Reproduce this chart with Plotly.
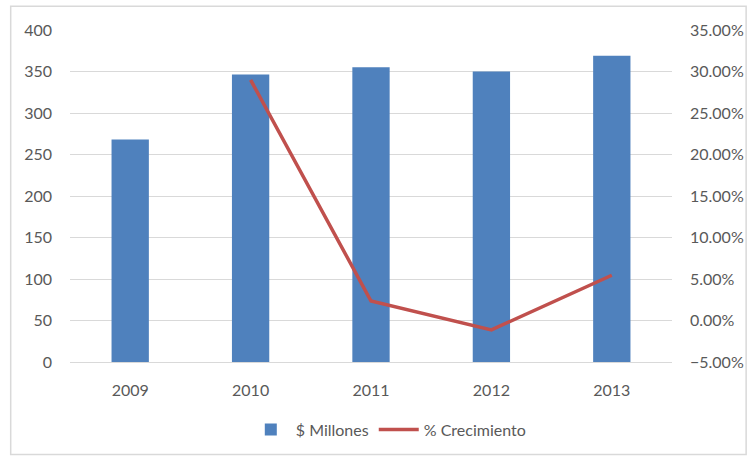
import plotly.graph_objects as go

years = ["2009", "2010", "2011", "2012", "2013"]
millones = [268, 346.5, 355, 350, 369]
crecimiento_years = ["2010", "2011", "2012", "2013"]
crecimiento = [0.290, 0.0235, -0.0113, 0.0545]

BAR_COLOR = "#4F81BD"
LINE_COLOR = "#C0504D"
TEXT_COLOR = "#595959"
GRID_COLOR = "#D9D9D9"
FONT = "Lato"

fig = go.Figure()
fig.add_trace(go.Bar(
    x=years, y=millones, name="$ Millones",
    marker=dict(color=BAR_COLOR, line=dict(width=0)),
    width=0.31, yaxis="y",
))
fig.add_trace(go.Scatter(
    x=crecimiento_years, y=crecimiento, name="% Crecimiento",
    mode="lines", line=dict(color=LINE_COLOR, width=3.5),
    yaxis="y2",
))

W, H = 756, 459
plot_left, plot_right, plot_top, plot_bottom = 70, 679, 30, 364
L = plot_left
R = W - plot_right
T = plot_top
B = H - plot_bottom
pw = plot_right - plot_left
ph = plot_bottom - plot_top

def px_x(x):
    return (x - plot_left) / pw

def px_y(y):
    return (plot_bottom - y) / ph

fig.update_layout(
    width=W, height=H,
    margin=dict(l=L, r=R, t=T, b=B, pad=0),
    paper_bgcolor="white", plot_bgcolor="white",
    font=dict(family=FONT, size=16, color=TEXT_COLOR),
    bargap=0.69,
    showlegend=True,
    legend=dict(
        orientation="h", x=px_x(392), xanchor="center",
        y=px_y(432), yanchor="middle",
        font=dict(family=FONT, size=16, color=TEXT_COLOR),
        itemwidth=40, traceorder="normal",
    ),
    xaxis=dict(
        type="category", showgrid=False, showline=True,
        linecolor=GRID_COLOR, linewidth=1, ticks="",
        ticklabelstandoff=14, fixedrange=True,
    ),
    yaxis=dict(
        range=[0, 400], dtick=50, tick0=0,
        showgrid=True, gridcolor=GRID_COLOR, gridwidth=1,
        zeroline=False, showline=False, ticks="",
        ticklabelstandoff=17,
    ),
    yaxis2=dict(
        range=[-0.05, 0.35], dtick=0.05, tick0=-0.05,
        tickformat=".2%", overlaying="y", side="right",
        showgrid=False, zeroline=False, showline=False, ticks="",
        ticklabelstandoff=17,
    ),
    shapes=[dict(
        type="rect", xref="paper", yref="paper",
        x0=px_x(10), x1=px_x(754), y0=px_y(457), y1=px_y(6),
        line=dict(color="#D9D9D9", width=1.5), layer="below",
    )],
)

fig.write_html(
    "out.html",
    config={"displayModeBar": False},
    post_script="document.body.style.margin='0';document.body.style.overflow='hidden';",
)
